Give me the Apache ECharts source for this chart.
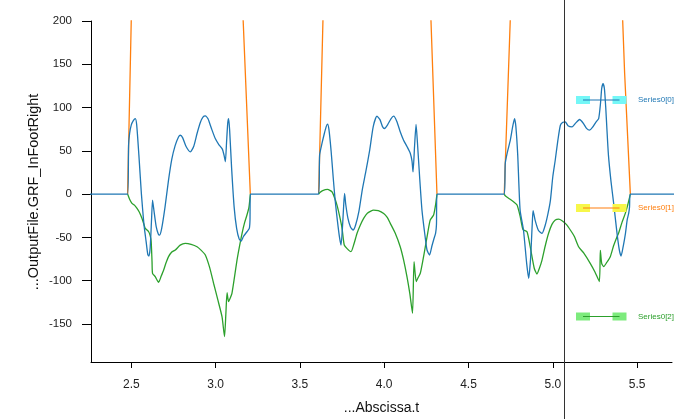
<!DOCTYPE html>
<html><head><meta charset="utf-8">
<script src="https://cdn.jsdelivr.net/npm/echarts@6/dist/echarts.min.js"></script>
<style>html,body{margin:0;padding:0;background:#fff}#c{width:690px;height:419px}</style>
</head><body><div id="c"></div>
<script>
const xMin = 2.261, xMax = 5.707, yMin = -194, yMax = 200;
const xTicks = [2.5, 3.0, 3.5, 4.0, 4.5, 5.0, 5.5];
const yTicks = [-150, -100, -50, 0, 50, 100, 150, 200];
const xTitle = '...Abscissa.t';
const yTitle = '...OutputFile.GRF_InFootRight';
const cursorX = 5.069;
const seriesNames = ['Series0[0]', 'Series0[1]', 'Series0[2]'];
const lineColors = ['#1f77b4', '#ff7f0e', '#2ca02c'];
const legendFill = ['#74f7f7', '#f7f74a', '#7deb7d'];

// Series0[0] (blue)
const series0 = [
 [2.25,0],[2.478,0],[2.484,56.5],[2.49,70],[2.50,80],[2.512,85],[2.524,87.3],[2.532,80],[2.545,45],[2.56,0],[2.575,-35],[2.588,-55],[2.598,-70],[2.605,-71.5],[2.612,-62],[2.62,-30],[2.626,-6.9],[2.635,-20],[2.648,-38],[2.66,-46],[2.668,-47.3],[2.68,-40],[2.70,-15],[2.72,15],[2.74,40],[2.76,56],[2.78,66],[2.791,68],[2.805,65],[2.825,55],[2.85,48.8],[2.87,55],[2.89,70],[2.91,83],[2.925,89],[2.939,90.4],[2.955,87],[2.975,76],[2.998,64.2],[3.02,57],[3.04,52],[3.05,45],[3.058,37.3],[3.065,60],[3.072,82],[3.077,87.3],[3.083,75],[3.095,30],[3.11,-15],[3.125,-40],[3.14,-52],[3.152,-54.2],[3.165,-49],[3.186,-43.5],[3.200,-39.6],[3.204,-30],[3.206,0],
 [3.611,0],[3.617,45],[3.631,58.5],[3.645,70],[3.656,78],[3.664,80.8],[3.672,75],[3.685,50],[3.698,18],[3.709,-6.9],[3.722,-30],[3.735,-50],[3.744,-58.8],[3.752,-40],[3.76,-12],[3.765,0.8],[3.772,-12],[3.785,-28],[3.80,-38],[3.815,-41.5],[3.83,-36],[3.85,-20],[3.87,5],[3.89,25],[3.914,50.8],[3.935,78],[3.957,90],[3.975,86],[3.99,78],[4.002,75.8],[4.02,80],[4.04,87],[4.056,90],[4.075,84],[4.095,72],[4.115,62.3],[4.135,55],[4.155,47],[4.165,38],[4.171,25.7],[4.18,55],[4.189,80.4],[4.197,60],[4.21,20],[4.224,-18.5],[4.24,-45],[4.254,-64.6],[4.269,-70.4],[4.283,-60],[4.293,-53],[4.305,-45],[4.310,-35],[4.313,0],
 [4.712,0],[4.718,35.4],[4.73,48],[4.748,62.3],[4.762,78],[4.773,87.3],[4.781,78],[4.792,45],[4.806,-18.5],[4.826,-41.5],[4.845,-80],[4.857,-97.3],[4.868,-75],[4.878,-35],[4.883,-19.2],[4.895,-30],[4.915,-42],[4.936,-45.3],[4.955,-36],[4.972,-22],[4.986,-6.9],[5.00,20],[5.015,40],[5.03,62],[5.045,79.6],[5.06,83],[5.074,83.4],[5.09,79],[5.114,77.7],[5.135,82],[5.159,86.2],[5.18,82],[5.20,76],[5.218,73.8],[5.235,77],[5.255,83],[5.272,87.3],[5.283,105],[5.29,122],[5.298,127.7],[5.306,122],[5.314,100],[5.321,75],[5.33,45],[5.345,15],[5.361,-10.8],[5.381,-45.3],[5.395,-65],[5.405,-71.5],[5.418,-60],[5.431,-45.3],[5.441,-30],[5.450,-22.3],[5.455,-15],[5.460,0],[5.72,0]
];

// Series0[1] (orange)
const series1 = [
 [2.478,0],[2.484,56],[2.500,203],[2.52,380],[2.6,700],[2.85,620],[3.1,500],[3.163,203],[3.206,0],null,
 [3.611,0],[3.617,45],[3.637,203],[3.66,420],[3.8,750],[4.1,600],[4.22,524],[4.277,203],[4.313,0],null,
 [4.712,0],[4.718,35],[4.748,203],[4.77,420],[4.9,700],[5.2,650],[5.35,485],[5.414,203],[5.426,140],[5.46,0]
];

// Series0[2] (green)
const series2 = [
 [2.478,0],[2.49,-6],[2.504,-10.8],[2.52,-13],[2.534,-16.5],[2.548,-21],[2.563,-28],[2.575,-35],[2.583,-39.6],[2.603,-43.5],[2.612,-48],[2.618,-55],[2.623,-78],[2.626,-91.5],[2.642,-95.4],[2.662,-101.9],[2.677,-95],[2.692,-87.7],[2.705,-80],[2.721,-72.3],[2.74,-67],[2.761,-64.6],[2.79,-59],[2.82,-56.9],[2.855,-58],[2.89,-60.8],[2.915,-65],[2.939,-70.4],[2.965,-85],[2.988,-103],[3.013,-122],[3.038,-141.6],[3.053,-164.6],[3.061,-138],[3.068,-113.9],[3.077,-124.3],[3.087,-120],[3.097,-114.6],[3.112,-96],[3.127,-76.2],[3.142,-60],[3.157,-45.3],[3.172,-33],[3.186,-24.2],[3.198,-15],[3.206,0],null,
 [3.611,0],[3.617,1.5],[3.635,4],[3.664,5.4],[3.690,2.7],[3.705,-4],[3.720,-12.7],[3.735,-25],[3.750,-39.6],[3.763,-58.8],[3.78,-63],[3.803,-66.5],[3.82,-58],[3.839,-45.3],[3.858,-36],[3.878,-28],[3.90,-22],[3.937,-18.5],[3.965,-19],[3.997,-22.3],[4.018,-27],[4.036,-33.8],[4.065,-45],[4.095,-60.8],[4.115,-76],[4.135,-95.4],[4.152,-115],[4.168,-137.7],[4.177,-78.1],[4.190,-101.2],[4.20,-97],[4.214,-91.5],[4.23,-76],[4.244,-60.8],[4.258,-45],[4.273,-30],[4.293,-24.2],[4.305,-12],[4.313,0],null,
 [4.712,0],[4.718,-2],[4.74,-5],[4.767,-8.8],[4.788,-12.7],[4.807,-26.2],[4.823,-40.8],[4.847,-43.5],[4.866,-60.8],[4.890,-85.7],[4.906,-92.3],[4.92,-86],[4.936,-76.2],[4.955,-60],[4.975,-45.3],[4.995,-35],[5.015,-30],[5.035,-29],[5.055,-30.8],[5.08,-35],[5.104,-41.5],[5.128,-49],[5.153,-60.8],[5.183,-68],[5.222,-80],[5.25,-90],[5.276,-101],[5.282,-65],[5.290,-80],[5.302,-83.8],[5.32,-79],[5.341,-72.3],[5.36,-60],[5.381,-49.2],[5.39,-45.3],[5.41,-33],[5.430,-22.3],[5.445,-12],[5.460,0]
];

const allSeries = [series0, series1, series2];
const FONT = "'Liberation Sans', Arial, Helvetica, sans-serif";
const chart = echarts.init(document.getElementById('c'), null, {renderer: 'canvas'});
const grid = {left: 91, right: 18, top: 21, bottom: 57};

const option = {
  animation: false,
  backgroundColor: '#fff',
  grid: grid,
  xAxis: {
    type: 'value', min: xMin, max: xMax,
    axisLine: {show: true, onZero: false, lineStyle: {color: '#000', width: 1}},
    axisTick: {show: true, length: 6, customValues: xTicks, lineStyle: {color: '#000'}},
    axisLabel: {customValues: xTicks, formatter: v => v.toFixed(1), color: '#222', fontSize: 12, fontFamily: FONT, margin: 17},
    splitLine: {show: false}
  },
  yAxis: {
    type: 'value', min: yMin, max: yMax,
    axisLine: {show: true, onZero: false, lineStyle: {color: '#000', width: 1}},
    axisTick: {show: true, length: 9, customValues: yTicks, lineStyle: {color: '#000'}},
    axisLabel: {customValues: yTicks, formatter: v => String(v), color: '#222', fontSize: 11.5, fontFamily: FONT, margin: 19},
    splitLine: {show: false}
  },
  series: allSeries.map((d, i) => ({
    name: seriesNames[i], type: 'line', data: d, showSymbol: false, symbol: 'none',
    connectNulls: false, clip: true, smooth: i === 1 ? false : 0.2,
    z: [3, 1, 2][i],
    lineStyle: {color: lineColors[i], width: 1.3}
  }))
};
chart.setOption(option);

const cx = chart.convertToPixel({xAxisIndex: 0}, cursorX);
const plotLeft = grid.left, plotRight = 690 - grid.right;
const legendY = [100, 208, 316.5];
const graphics = [
  {type: 'line', shape: {x1: Math.round(cx) + 0.5, y1: 0, x2: Math.round(cx) + 0.5, y2: 419}, style: {stroke: '#333', lineWidth: 1}, z: 10},
  {type: 'text', style: {text: xTitle, x: (plotLeft + plotRight) / 2, y: 408, textAlign: 'center', textVerticalAlign: 'middle', fontSize: 14, fontFamily: FONT, fill: '#111'}},
  {type: 'text', rotation: Math.PI / 2, x: 34, y: 192, style: {text: yTitle, x: 0, y: 0, textAlign: 'center', textVerticalAlign: 'middle', fontSize: 14.5, fontFamily: FONT, fill: '#111'}}
];
seriesNames.forEach((n, i) => {
  const y = legendY[i];
  graphics.push({type: 'rect', shape: {x: 576, y: y - 4, width: 14, height: 8}, style: {fill: legendFill[i]}, z: 20});
  graphics.push({type: 'rect', shape: {x: 612.5, y: y - 4, width: 14, height: 8}, style: {fill: legendFill[i]}, z: 20});
  graphics.push({type: 'line', shape: {x1: 583, y1: y, x2: 619.5, y2: y}, style: {stroke: lineColors[i], lineWidth: 1.2}, z: 21});
  graphics.push({type: 'text', style: {text: n, x: 638, y: y, textAlign: 'left', textVerticalAlign: 'middle', fontSize: 8, fontFamily: FONT, fill: lineColors[i]}, z: 21});
});
chart.setOption({graphic: graphics});
</script></body></html>
